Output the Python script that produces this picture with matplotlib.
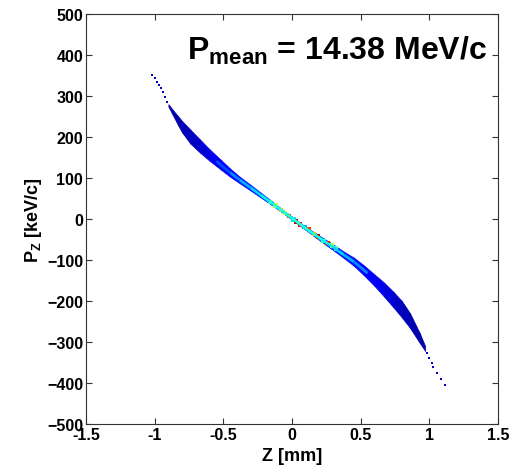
import numpy as np
import matplotlib
matplotlib.use('Agg')
import matplotlib.pyplot as plt
from matplotlib.collections import LineCollection

# band centre, half thickness (keV/c) and colour level
z_band = [-0.90, -0.87, -0.83, -0.80, -0.74, -0.67, -0.60, -0.52, -0.45, -0.38, -0.30, -0.23, -0.16, -0.08, 0.0,
          0.08, 0.16, 0.23, 0.30, 0.38, 0.45, 0.52, 0.60, 0.67, 0.74, 0.80, 0.86, 0.93, 0.97]
pz_band = [277, 261, 240, 225, 201, 178, 156, 133, 113, 95, 76, 59, 42, 22, 2,
           -18, -37, -53, -69, -88, -104, -124, -149, -172, -197, -220, -248, -290, -316]
half_band = [3, 6, 11, 14, 17, 16, 14, 12, 10, 8, 7, 6, 5, 4, 4,
             4, 5, 6, 7, 8, 10, 12, 14, 17, 19, 20, 18, 12, 6]
lvl_band = [0.04, 0.04, 0.04, 0.05, 0.06, 0.08, 0.10, 0.12, 0.13, 0.14, 0.15, 0.16, 0.18, 0.2, 0.2,
            0.2, 0.18, 0.16, 0.15, 0.14, 0.13, 0.12, 0.10, 0.08, 0.06, 0.05, 0.04, 0.04, 0.04]

# lighter core of the band
z_core = [-0.55, -0.45, -0.38, -0.30, -0.23, -0.16, -0.08, 0.0, 0.08, 0.16, 0.23, 0.30, 0.38, 0.45, 0.55]
pz_core = [141, 113, 95, 76, 59, 42, 22, 2, -18, -37, -53, -69, -88, -104, -132]
lvl_core = [0.2, 0.26, 0.3, 0.33, 0.36, 0.38, 0.38, 0.38, 0.38, 0.38, 0.36, 0.33, 0.3, 0.26, 0.2]

# hot cells near the centre
z_hot = [-0.16, -0.12, -0.08, -0.05, -0.02, 0.01, 0.03, 0.06, 0.09, 0.12, 0.16, 0.19, 0.23, 0.26, 0.29, 0.32]
pz_hot = [42, 33, 22, 14, 7, -1, -6, -13, -19, -25, -37, -43, -53, -58, -65, -72]
lvl_hot = [0.45, 0.6, 0.7, 0.65, 0.85, 0.35, 0.95, 0.9, 0.3, 0.85, 0.7, 0.95, 0.4, 0.9, 0.55, 0.45]

# sparse tails
z_tail = [-1.02, -1.00, -0.985, -0.97, -0.955, -0.94, -0.925, -0.91,
          0.985, 0.998, 1.019, 1.03, 1.056, 1.085, 1.114]
pz_tail = [352, 343, 335, 327, 319, 309, 298, 286,
           -328, -338, -352, -360, -375, -390, -405]

plt.rcParams['font.family'] = ['Liberation Sans', 'DejaVu Sans']
plt.rcParams['font.weight'] = 'bold'
plt.rcParams['axes.labelweight'] = 'bold'
plt.rcParams['mathtext.fontset'] = 'custom'
plt.rcParams['mathtext.rm'] = 'Liberation Sans:bold'
plt.rcParams['mathtext.it'] = 'Liberation Sans:bold'
plt.rcParams['mathtext.bf'] = 'Liberation Sans:bold'

cmap = plt.get_cmap('jet')

fig = plt.figure(figsize=(5.1, 4.77), dpi=100)
ax = fig.add_axes([0.1686, 0.109, 0.8078, 0.8596])

zb = np.array(z_band)
pb = np.array(pz_band)
hb = np.array(half_band)
for i in range(len(zb) - 1):
    c = cmap(lvl_band[i])
    ax.fill_between(zb[i:i + 2], pb[i:i + 2] - hb[i:i + 2], pb[i:i + 2] + hb[i:i + 2],
                    facecolor=c, edgecolor=c, linewidth=0.5)

pts = np.array([z_core, pz_core]).T.reshape(-1, 1, 2)
segs = np.concatenate([pts[:-1], pts[1:]], axis=1)
lc = LineCollection(segs, colors=[cmap(v) for v in lvl_core[:-1]], linewidths=2)
ax.add_collection(lc)

ax.scatter(z_hot, pz_hot, c=[cmap(v) for v in lvl_hot], marker='s', s=10, linewidths=0)
ax.scatter(z_tail, pz_tail, color=cmap(0.07), marker='s', s=4, linewidths=0)

ax.set_xlim(-1.5, 1.5)
ax.set_ylim(-500, 500)
ax.set_xticks([-1.5, -1, -0.5, 0, 0.5, 1, 1.5])
ax.set_xticklabels(['-1.5', '-1', '-0.5', '0', '0.5', '1', '1.5'])
ax.set_yticks(np.arange(-500, 501, 100))
ax.tick_params(direction='in', top=True, right=True, length=4, width=0.8, pad=2,
               labelsize=11.5, color='0.2')
for s in ax.spines.values():
    s.set_color('0.2')
    s.set_linewidth(0.8)

ax.set_xlabel('Z [mm]', fontsize=13, labelpad=4)
ax.set_ylabel(r'P$_{\rm Z}$ [keV/c]', fontsize=13, labelpad=2)

ax.text(0.973, 0.89, r'P$_{\rm mean}$ = 14.38 MeV/c', transform=ax.transAxes,
        ha='right', va='baseline', fontsize=23, fontweight='bold')

fig.savefig('out.png', dpi=100)
